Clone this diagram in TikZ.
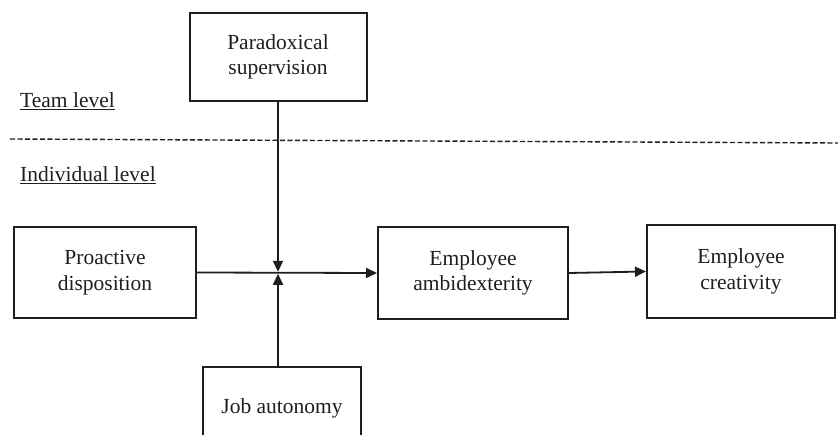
\documentclass[tikz,border=0pt]{standalone}
\usepackage{fontspec}
\setmainfont{Liberation Serif}
\usetikzlibrary{arrows.meta}
\definecolor{ink}{HTML}{1E1E1E}
\begin{document}
\begin{tikzpicture}[x=1pt,y=-1pt,
  box/.style={draw=ink,line width=2pt,rectangle,align=center,inner sep=0pt,
    font=\fontsize{21.5}{25.5}\selectfont,text=ink},
  lbl/.style={anchor=base west,inner sep=0pt,font=\fontsize{21.5}{25.5}\selectfont,text=ink},
  conn/.style={draw=ink,line width=1.8pt,-{Triangle[length=11pt,width=10pt]}}]
\useasboundingbox (0,0) rectangle (838,435);
\clip (0,0) rectangle (838,435);
\node[box,minimum width=177pt,minimum height=88pt] (para) at (278,57) {Paradoxical\\supervision};
\node[box,minimum width=182pt,minimum height=91pt] (pro) at (105,272.5) {Proactive\\disposition};
\node[box,minimum width=190pt,minimum height=92pt] (amb) at (473,273) {Employee\\ambidexterity};
\node[box,minimum width=188pt,minimum height=93pt] (cre) at (741,271.5) {Employee\\creativity};
\node[box,minimum width=158pt,minimum height=82pt] (job) at (282,408) {Job autonomy};
\node[lbl] (team) at (20,108) {\underline{Team level}};
\node[lbl] (indiv) at (20,182) {\underline{Individual level}};
\coordinate (dl) at (10,139);
\coordinate (dr) at (838,143);
\draw[ink,line width=1.4pt,dash pattern=on 5pt off 2.5pt] (dl) -- (dr);
\coordinate (J) at (278,272.8);
\draw[conn] (pro.east) -- (amb.west);
\draw[conn] (amb.east) -- (cre.west);
\draw[conn,shorten >=1pt] (para.south) -- (J);
\draw[conn,shorten >=1pt] (J |- job.north) -- (J);
\end{tikzpicture}
\end{document}
